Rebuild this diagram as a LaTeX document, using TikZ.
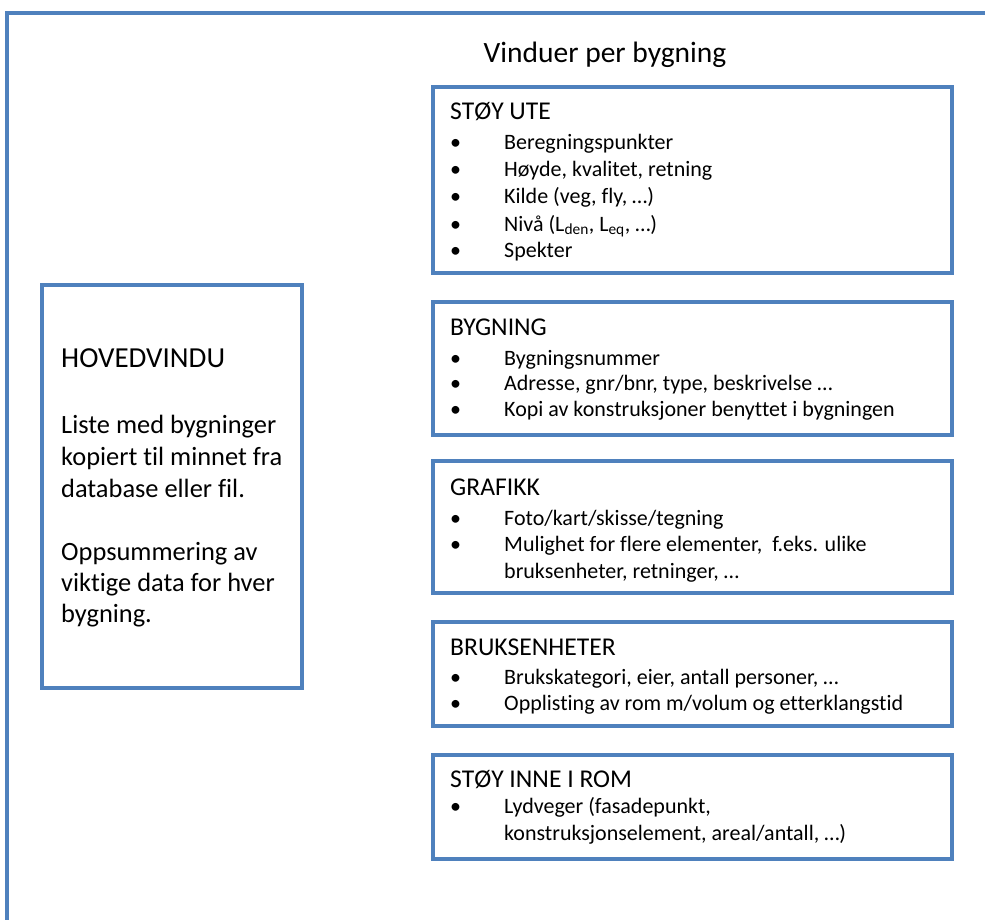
\documentclass[tikz,border=0pt]{standalone}
\usepackage{fontspec}
\setmainfont{Carlito}[Ligatures={NoCommon}]
\definecolor{frameblue}{HTML}{4F81BD}
\newcommand\bl{\makebox[54pt][l]{•}}
\newcommand\ind{\hspace*{54pt}}
\begin{document}
\begin{tikzpicture}[x=1pt,y=-1pt,
  panel/.style={draw=frameblue, line width=4pt, inner sep=0pt, anchor=north west, rectangle},
  body/.style={anchor=base west, inner sep=0pt, font=\fontsize{22}{27}\selectfont},
  head/.style={anchor=base west, inner sep=0pt, font=\fontsize{25.6}{30}\selectfont},
  big/.style={anchor=base west, inner sep=0pt, font=\fontsize{26.4}{33}\selectfont},
]
\useasboundingbox (0,0) rectangle (985,920);
\begin{scope}
\clip (0,0) rectangle (985,920);
% outer application window
\draw[frameblue, line width=4pt] (7,940) -- (7,13) -- (1000,13);
\end{scope}

% title
\node[anchor=base, inner sep=0pt, font=\fontsize{29.5}{34}\selectfont] (title) at (605,63) {Vinduer per bygning};

% main window
\node[panel, minimum width=260pt, minimum height=403pt] (hoved) at (40,283) {};
\node[big, font=\fontsize{29}{34}\selectfont] (h0) at (61,367) {HOVEDVINDU};
\node[big] (h1) at (61,433) {Liste med bygninger};
\node[big] (h2) at (61,465) {kopiert til minnet fra};
\node[big] (h3) at (61,497) {database eller fil.};
\node[big] (h4) at (61,560) {Oppsummering av};
\node[big] (h5) at (61,591) {viktige data for hver};
\node[big] (h6) at (61,622) {bygning.};

% per-building windows
\node[panel, minimum width=519pt, minimum height=186pt] (stoyute) at (431,85) {};
\node[head] (su0) at (450,120) {STØY UTE};
\node[body] (su1) at (450,150) {\bl Beregningspunkter};
\node[body] (su2) at (450,177) {\bl Høyde, kvalitet, retning};
\node[body] (su3) at (450,204) {\bl Kilde (veg, fly, …)};
\node[body] (su4) at (450,231) {\bl Nivå (L\textsubscript{den}, L\textsubscript{eq}, …)};
\node[body] (su5) at (450,257) {\bl Spekter};

\node[panel, minimum width=519pt, minimum height=133pt] (bygning) at (431,300) {};
\node[head] (by0) at (450,335) {BYGNING};
\node[body] (by1) at (450,365) {\bl Bygningsnummer};
\node[body] (by2) at (450,390.5) {\bl Adresse, gnr/bnr, type, beskrivelse …};
\node[body] (by3) at (450,416) {\bl Kopi av konstruksjoner benyttet i bygningen};

\node[panel, minimum width=519pt, minimum height=132pt] (grafikk) at (431,459) {};
\node[head] (gr0) at (450,495) {GRAFIKK};
\node[body] (gr1) at (450,525) {\bl Foto/kart/skisse/tegning};
\node[body] (gr2) at (450,551.5) {\bl Mulighet for flere elementer,\ \ f.eks. ulike};
\node[body] (gr3) at (450,578) {\ind bruksenheter, retninger, …};

\node[panel, minimum width=519pt, minimum height=104pt] (bruks) at (431,620) {};
\node[head] (br0) at (450,655) {BRUKSENHETER};
\node[body] (br1) at (450,684) {\bl Brukskategori, eier, antall personer, …};
\node[body] (br2) at (450,710.5) {\bl Opplisting av rom m/volum og etterklangstid};

\node[panel, minimum width=519pt, minimum height=104pt] (inne) at (431,753) {};
\node[head] (in0) at (450,787) {STØY INNE I ROM};
\node[body] (in1) at (450,813) {\bl Lydveger (fasadepunkt,};
\node[body] (in2) at (450,840) {\ind konstruksjonselement, areal/antall, …)};
\end{tikzpicture}
\end{document}
